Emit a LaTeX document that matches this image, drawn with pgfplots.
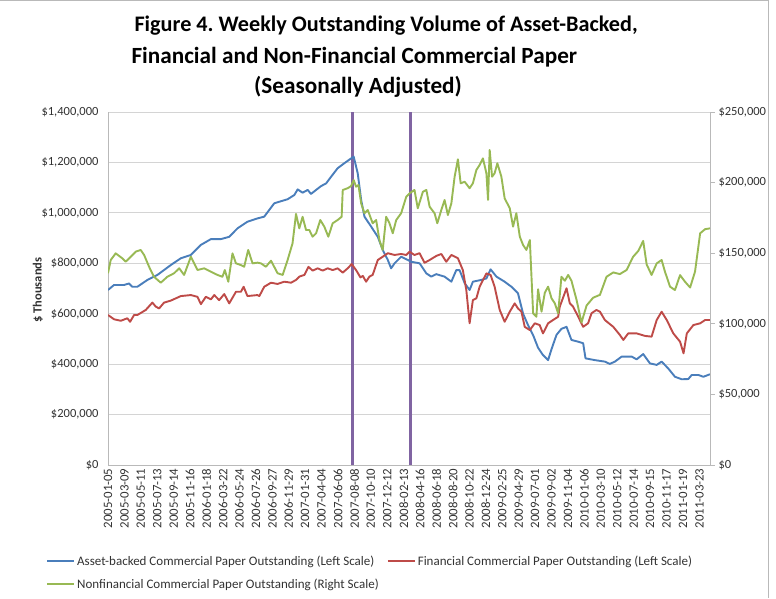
\documentclass[border=0pt]{standalone}
\usepackage{pgfplots}
\pgfplotsset{compat=1.18}
\usepackage{fontspec}
\setmainfont{Carlito}
\frenchspacing
\definecolor{abcp}{RGB}{74,126,187}
\definecolor{fincp}{RGB}{190,75,72}
\definecolor{nfcp}{RGB}{152,185,84}
\definecolor{evt}{RGB}{128,100,162}
\definecolor{gridc}{RGB}{212,212,212}
\definecolor{axc}{RGB}{185,185,185}
\definecolor{txt}{RGB}{50,50,50}
\begin{document}
\begin{tikzpicture}
\path[use as bounding box] (0pt,0pt) rectangle (776pt,598pt);
\draw[axc, line width=0.8pt] (0pt,597.4pt) -- (768pt,597.4pt) -- (768pt,0pt);
\node[anchor=base west, font=\fontsize{22.2}{26}\bfseries\selectfont] at (131pt,566pt) {Figure 4. Weekly Outstanding Volume of Asset-Backed,};
\node[anchor=base west, font=\fontsize{23.2}{26}\bfseries\selectfont] at (128pt,534pt) {Financial and Non-Financial Commercial Paper};
\node[anchor=base, font=\fontsize{23.2}{26}\bfseries\selectfont] at (358pt,504pt) {(Seasonally Adjusted)};
\node[rotate=90, font=\fontsize{12.5}{14}\bfseries\selectfont, text=txt] at (38pt,308pt) {\$ Thousands};
\begin{axis}[
  at={(108pt,133pt)}, anchor=south west, scale only axis,
  width=602pt, height=353pt,
  xmin=0, xmax=329.8, ymin=0, ymax=1400,
  axis x line*=bottom, axis y line*=left,
  axis line style={draw=axc, line width=0.8pt},
  major tick length=0pt,
  ymajorgrids, grid style={draw=gridc, line width=0.8pt},
  ytick={0,200,...,1400},
  yticklabels={{\$0},{\$200,000},{\$400,000},{\$600,000},{\$800,000},{\$1,000,000},{\$1,200,000},{\$1,400,000}},
  yticklabel style={font=\fontsize{12.5}{14}\selectfont, text=txt, xshift=-6pt},
  xtick={0,9,...,324},
  xticklabels={2005-01-05,2005-03-09,2005-05-11,2005-07-13,2005-09-14,2005-11-16,2006-01-18,2006-03-22,2006-05-24,2006-07-26,2006-09-27,2006-11-29,2007-01-31,2007-04-04,2007-06-06,2007-08-08,2007-10-10,2007-12-12,2008-02-13,2008-04-16,2008-06-18,2008-08-20,2008-10-22,2008-12-24,2009-02-25,2009-04-29,2009-07-01,2009-09-02,2009-11-04,2010-01-06,2010-03-10,2010-05-12,2010-07-14,2010-09-15,2010-11-17,2011-01-19,2011-03-23},
  xticklabel style={rotate=90, anchor=east, font=\fontsize{12.8}{14}\selectfont, text=txt},
  legend style={at={(-0.108,-0.245)}, anchor=north west, draw=none, fill=none,
    font=\fontsize{13}{15}\selectfont, text=txt, row sep=8pt,
    /tikz/every even column/.append style={column sep=6pt}},
  legend columns=2, legend cell align=left,
  legend image code/.code={\draw[#1, line width=2pt] (0pt,0pt) -- (27pt,0pt);},
]
\addplot[evt, line width=3pt, forget plot] coordinates {(133.9,0) (133.9,1400)};
\addplot[evt, line width=3pt, forget plot] coordinates {(165.6,0) (165.6,1400)};
\addplot[abcp, line width=1.9pt, line join=round] coordinates {
(0,694) (3.3,714) (8.8,714) (11.5,720) (13.3,707) (16.1,707) (21.6,734) (27.1,754) (34.4,793) (39.9,820) (45.4,833) (50.9,873) (56.4,896) (61.9,896) (66.4,905) (71,939) (76.4,965) (81.9,978) (85.6,985) (91.1,1038) (93.8,1044) (98.4,1054) (102.1,1071) (103.9,1093) (106.6,1080) (109.4,1091) (111.2,1075) (114,1091) (116.7,1106) (119.5,1117) (122.2,1143) (125.8,1177) (129.5,1197) (133.2,1216) (134.6,1223) (136.8,1157) (138.7,1051) (140.5,985) (144.2,945) (147.8,905) (150.5,853) (153.3,813) (155.1,780) (157,800) (160.6,826) (164.3,813) (166.1,806) (170.7,800) (174.4,760) (177.1,747) (179.8,757) (184.4,747) (188.1,727) (190.8,773) (192.6,773) (195.4,721) (198.1,694) (199.9,727) (204.5,734) (207.3,740) (209.6,776) (212.8,747) (217.3,727) (221,707) (224.6,681) (227.4,600) (230.1,555) (232.9,515) (235.6,465) (238.3,436) (241.1,416) (243,460) (245.7,516) (248.4,540) (251.2,548) (253.9,496) (257.6,489) (260.3,483) (261.6,423) (266.7,416) (272.2,410) (274.9,401) (277.7,410) (281.4,430) (286.9,430) (289.6,419) (293.2,440) (296.9,403) (300.6,397) (303.3,410) (306.9,383) (310.6,350) (314.3,340) (317.9,341) (319.8,357) (323.4,357) (326.2,350) (329.8,360)};
\addlegendentry{Asset-backed Commercial Paper Outstanding (Left Scale)}
\addplot[fincp, line width=1.9pt, line join=round] coordinates {
(0,595) (3.3,578) (7,572) (10.6,582) (12.1,568) (14.3,595) (16.1,595) (20.7,615) (24.3,644) (26.2,628) (28,621) (30.7,644) (34.4,652) (39.9,670) (45.4,674) (49,667) (50.9,638) (53.6,667) (56.4,657) (58.2,674) (60.9,654) (63.7,678) (66.4,641) (70.1,687) (72.8,687) (74.3,707) (76.4,670) (81.9,674) (82.9,670) (85.6,707) (89.3,723) (92.9,718) (96.6,727) (100.3,723) (103,734) (104.8,747) (107.6,754) (109.8,786) (112.1,771) (114.9,780) (117.6,771) (120.4,780) (123.1,773) (125.8,780) (128.6,763) (131.3,780) (133.5,797) (135.9,773) (138.3,744) (139.6,750) (141.4,727) (143.2,747) (145,754) (147.8,813) (150.5,826) (153.3,840) (157,833) (160.6,837) (163.4,833) (165.2,846) (167.9,833) (170.7,840) (173.4,802) (176.2,813) (179.8,829) (182.6,837) (185.3,806) (188.1,833) (191.7,820) (194.4,773) (196.3,694) (198.1,562) (199.9,654) (201.8,661) (203.6,707) (207.3,760) (209.6,754) (211.8,707) (214.6,615) (217.3,568) (220.1,608) (222.8,641) (224.6,621) (226.5,608) (228.3,548) (231.1,535) (233.8,562) (236.5,555) (238.3,522) (241.1,562) (243.8,575) (246.6,588) (247.5,628) (251.2,701) (253,641) (254.8,628) (257.6,588) (260.3,548) (263,562) (264.9,602) (267.6,615) (269.5,608) (272.2,575) (276.8,548) (280.4,516) (282.3,496) (285,522) (289.6,522) (294.2,512) (297.8,509) (300.6,575) (303.3,608) (306.1,575) (309.7,522) (313.4,489) (315.3,443) (317.1,522) (320.7,555) (324.4,562) (327.1,575) (329.8,575)};
\addlegendentry{Financial Commercial Paper Outstanding (Left Scale)}
\addlegendimage{nfcp}
\addlegendentry{Nonfinancial Commercial Paper Outstanding (Right Scale)}
\end{axis}
\begin{axis}[
  at={(108pt,133pt)}, anchor=south west, scale only axis,
  width=602pt, height=353pt,
  xmin=0, xmax=329.8, ymin=0, ymax=250,
  axis x line=none, axis y line*=right,
  axis line style={draw=axc, line width=0.8pt},
  tick align=outside, major tick length=5pt,
  tick style={draw=axc, line width=0.8pt},
  ytick={0,50,...,250},
  yticklabels={{\$0},{\$50,000},{\$100,000},{\$150,000},{\$200,000},{\$250,000}},
  yticklabel style={font=\fontsize{12.5}{14}\selectfont, text=txt},
]
\addplot[nfcp, line width=1.9pt, line join=round] coordinates {
(0,135.8) (1.5,145.2) (4.2,149.9) (7.8,146.4) (9.7,144.0) (12.5,147.5) (15.2,151.1) (17.9,152.3) (19.8,148.7) (22.5,140.4) (25.2,133.3) (28.9,129.1) (32.5,133.3) (36.2,135.8) (39,139.3) (41.7,134.6) (45.4,147.5) (49,138.1) (52.7,139.3) (56.4,136.9) (60,134.6) (62.7,133.3) (64,138.1) (65.9,129.8) (68.2,149.9) (70.1,142.8) (72.8,141.6) (74.6,140.4) (76.8,152.3) (79.2,142.8) (81.9,143.3) (83.8,142.8) (86.5,140.4) (89.3,144.7) (92.9,135.8) (95.7,134.6) (98.4,145.2) (101.1,157.0) (103,177.8) (104.8,167.6) (106.6,175.8) (108.5,166.4) (110.3,166.4) (112.1,161.7) (114,164.1) (116.3,173.5) (118.5,168.8) (120.7,161.7) (123.1,171.2) (125.8,173.5) (128,175.8) (128.6,194.8) (131.3,196.0) (133.2,197.6) (134.6,201.8) (135.9,197.1) (137.2,198.3) (138.7,185.3) (140.5,178.3) (142.3,180.6) (145,171.2) (146.9,173.5) (148.7,159.3) (150.5,152.3) (152.4,175.8) (154.2,171.2) (156,164.1) (157.9,173.5) (160.6,178.3) (163.4,190.0) (165.2,192.4) (167.9,194.8) (169.7,181.8) (172.5,193.5) (174.4,194.8) (176.2,182.9) (178.9,178.3) (180.4,171.2) (182.6,180.6) (184.4,187.7) (186.2,177.0) (188.1,185.3) (189.9,204.2) (191.7,216.5) (193.2,199.5) (195.4,200.6) (198.1,196.0) (199.9,199.5) (201.8,208.9) (203.6,212.5) (205.4,217.2) (207.3,206.6) (208.2,187.7) (209.1,223.1) (210.4,204.2) (211.8,206.6) (213.3,213.7) (215.5,204.2) (217.3,188.9) (220.1,181.8) (221.9,168.8) (223.7,178.3) (225.6,161.7) (227.4,155.8) (229.2,152.3) (231.1,159.3) (232.9,107.4) (234.7,105.0) (235.6,124.5) (237.5,108.6) (239.3,122) (241.1,126.3) (243,118) (244.8,114.5) (246.6,107.5) (248.4,133.3) (250.3,130.5) (252.1,134.6) (253.9,130.5) (256.7,116.9) (259.4,100.9) (262.2,113) (265.8,118.5) (269.5,120.5) (273.1,133.3) (276.8,136.4) (280.4,135.2) (284.1,138.1) (287.7,147.5) (290.5,151.6) (293.2,158.7) (295.1,142) (297.8,134.6) (300.6,142.8) (303.3,145.2) (305.1,137) (307.9,126.3) (310.6,123.9) (313.4,134.5) (316.1,129.8) (318.9,125.7) (321.6,137) (324.4,164.1) (327.1,167) (329.8,167.6)};
\end{axis}
\end{tikzpicture}
\end{document}
